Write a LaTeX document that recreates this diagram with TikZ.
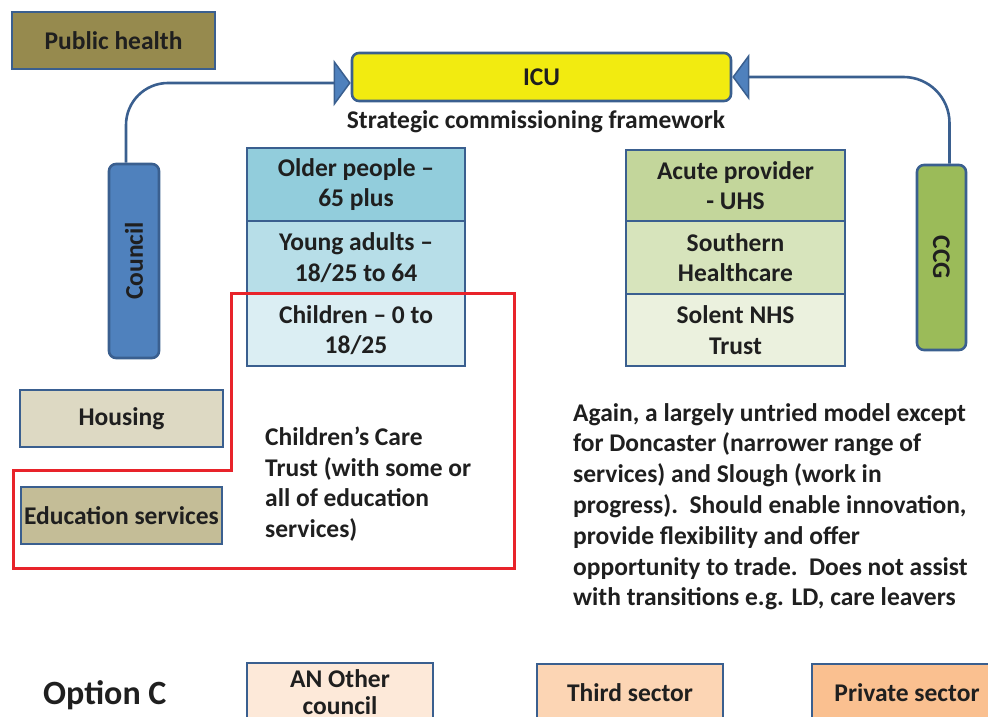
\documentclass[tikz,border=0pt]{standalone}
\usepackage{fontspec}
\setmainfont{Carlito}
\usetikzlibrary{arrows.meta}
\definecolor{bord}{HTML}{3A5F8F}
\definecolor{ink}{HTML}{1F1F1F}
\definecolor{phc}{HTML}{968A4E}
\definecolor{icuc}{HTML}{F2EB10}
\definecolor{op}{HTML}{92CDDC}
\definecolor{ya}{HTML}{B7DEE8}
\definecolor{ch}{HTML}{DBEEF3}
\definecolor{councilc}{HTML}{4F81BD}
\definecolor{ac}{HTML}{C3D69B}
\definecolor{sh}{HTML}{D7E4BC}
\definecolor{so}{HTML}{EBF1DE}
\definecolor{ccgc}{HTML}{9BBB59}
\definecolor{hous}{HTML}{DDD9C3}
\definecolor{edu}{HTML}{C4BD97}
\definecolor{redl}{HTML}{E8232A}
\definecolor{anc}{HTML}{FDE9D9}
\definecolor{thc}{HTML}{FCD5B4}
\definecolor{prc}{HTML}{FAC090}
\newcommand\tf{\fontsize{25.5bp}{30.5bp}\selectfont\bfseries}
\newcommand\pf{\fontsize{25.5bp}{30.8bp}\selectfont\bfseries}
\tikzset{
  box/.style={draw=bord, line width=2.6bp, text=ink, align=center, inner sep=0pt, font=\tf},
  rbox/.style={box, rounded corners=7bp},
  conn/.style={draw=bord, line width=2.6bp},
  tip/.style={-{Triangle[length=17bp,width=46bp,fill=councilc,line width=1.5bp]}},
  plain/.style={text=ink, align=left, inner sep=0pt, anchor=north west},
}
\begin{document}
\begin{tikzpicture}[x=1bp,y=-1bp]
\useasboundingbox (0,0) rectangle (988,717);
\clip (0,0) rectangle (988,717);

\node[box, fill=phc, minimum width=203bp, minimum height=57bp] (ph) at (113.5,40.5) {Public health};
\node[rbox, fill=icuc, minimum width=379bp, minimum height=48bp] (icu) at (541.5,77) {ICU};
\node[text=ink, font=\tf, inner sep=0pt] (scf) at (536,122) {Strategic commissioning framework};

\node[box, fill=op, minimum width=218bp, minimum height=73bp] (older) at (356,184.5) {Older people --\\65 plus};
\node[box, fill=ya, minimum width=218bp, minimum height=73bp] (young) at (356,257.5) {Young adults --\\18/25 to 64};
\node[box, fill=ch, minimum width=218bp, minimum height=72bp] (child) at (356,330) {Children -- 0 to\\18/25};

\node[box, fill=ac, minimum width=219bp, minimum height=71bp] (acute) at (735.5,185.5) {Acute provider\\- UHS};
\node[box, fill=sh, minimum width=219bp, minimum height=73bp] (south) at (735.5,257.5) {Southern\\Healthcare};
\node[box, fill=so, minimum width=219bp, minimum height=72bp] (solent) at (735.5,330) {Solent NHS\\Trust};

\node[rbox, fill=councilc, minimum width=50bp, minimum height=194bp] (council) at (134,261) {};
\node[text=ink, font=\tf, rotate=90, inner sep=0pt] at (council.center) {Council};
\node[rbox, fill=ccgc, minimum width=49bp, minimum height=185bp] (ccg) at (941.5,257.5) {};
\node[text=ink, font=\tf, rotate=-90, inner sep=0pt] at (ccg.center) {CCG};

\node[box, fill=hous, minimum width=203bp, minimum height=57bp] (housing) at (121.5,418.5) {Housing};
\node[box, fill=edu, minimum width=201bp, minimum height=57bp] (educ) at (121.5,515.5) {Education services};

\draw[redl, line width=3bp] (231,293) -- (514,293) -- (514,568) -- (13,568) -- (13,470) -- (231,470) -- cycle;

\node[plain, font=\tf] (cct) at (265,427) {Children’s Care\\Trust (with some or\\all of education\\services)};
\node[plain, font=\pf] (para) at (573,403) {Again, a largely untried model except\\for Doncaster (narrower range of\\services) and Slough (work in\\progress).\ \ Should enable innovation,\\provide flexibility and offer\\opportunity to trade.\ \ Does not assist\\with transitions e.g. LD, care leavers};

\node[text=ink, font=\fontsize{34bp}{38bp}\selectfont\bfseries, inner sep=0pt, anchor=west] (optc) at (43,695) {Option C};
\node[box, fill=anc, minimum width=186bp, minimum height=58bp, font=\fontsize{25.5bp}{27bp}\selectfont\bfseries] (anoth) at (340,692) {AN Other\\council};
\node[box, fill=thc, minimum width=186bp, minimum height=58bp] (third) at (630,693) {Third sector};
\node[box, fill=prc, minimum width=190bp, minimum height=58bp] (priv) at (907,693) {Private sector};

\coordinate (cTop) at ([xshift=-8bp]council.north);
\coordinate (aL) at ([yshift=-6bp]icu.west);
\coordinate (gTop) at ([xshift=8bp]ccg.north);
\draw[conn, tip, rounded corners=42bp] (cTop) |- (aL);
\draw[conn, tip, rounded corners=46bp] (gTop) |- (icu.east);
\end{tikzpicture}
\end{document}
